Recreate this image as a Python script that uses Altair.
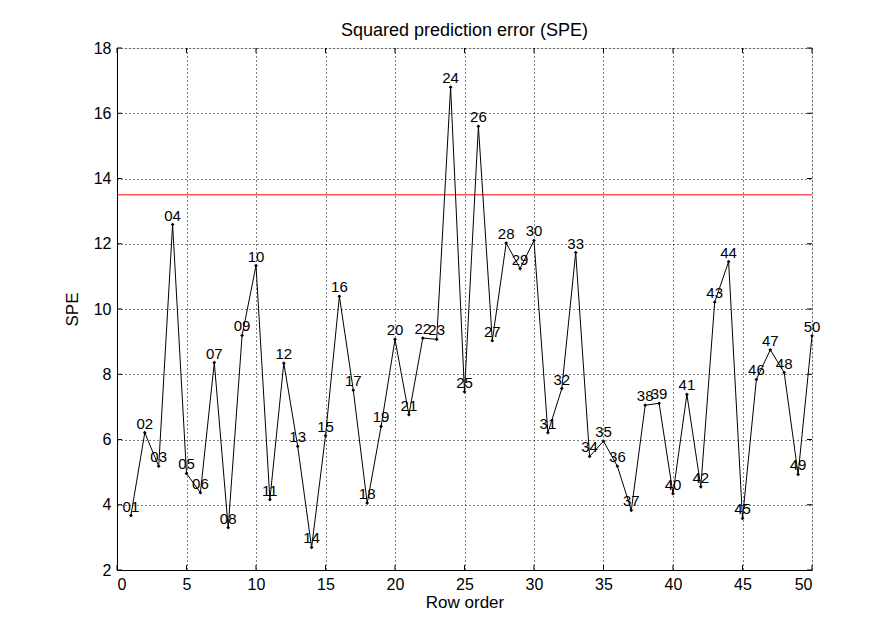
import altair as alt
import pandas as pd

rows = list(range(1, 51))
spe = [3.67, 6.21, 5.18, 12.59, 4.96, 4.37, 8.36, 3.30, 9.19, 11.33,
       4.16, 8.34, 5.79, 2.69, 6.12, 10.39, 7.51, 4.05, 6.40, 9.07,
       6.76, 9.11, 9.07, 16.80, 7.46, 15.60, 9.03, 12.02, 11.24, 12.10,
       6.21, 7.56, 11.73, 5.48, 5.95, 5.18, 3.83, 7.05, 7.11, 4.34,
       7.38, 4.55, 10.21, 11.45, 3.58, 7.84, 8.75, 8.05, 4.93, 9.18]
limit = [13.5]
x_ticks = list(range(0, 51, 5))
y_ticks = list(range(2, 19, 2))

font = "Liberation Sans"
plotWidth = 695
plotHeight = 522

df = pd.DataFrame({"row": rows, "spe": spe,
                   "label": [f"{r:02d}" for r in rows]})

xs = alt.Scale(domain=[0, 50], nice=False, zero=False)
ys = alt.Scale(domain=[2, 18], nice=False, zero=False)

base = alt.Chart(df).encode(
    x=alt.X("row:Q", scale=xs, title="Row order",
            axis=alt.Axis(values=x_ticks, grid=True, gridDash=[1, 3],
                          gridColor="black", gridOpacity=1, tickSize=0,
                          labelPadding=6, labelFontSize=16, labelColor="black",
                          domainColor="black", titleFontSize=17,
                          titleFontWeight="normal", titlePadding=2,
                          titleColor="black", labelFont=font, titleFont=font)),
    y=alt.Y("spe:Q", scale=ys, title="SPE",
            axis=alt.Axis(values=y_ticks, grid=True, gridDash=[1, 3],
                          gridColor="black", gridOpacity=1, tickSize=0,
                          labelPadding=6, labelFontSize=16, labelColor="black",
                          domainColor="black", titleFontSize=17,
                          titleFontWeight="normal", titlePadding=12,
                          titleColor="black", labelFont=font, titleFont=font)),
)

line = base.mark_line(color="black", strokeWidth=1)
points = base.mark_point(shape="diamond", filled=True, color="black",
                         size=14, opacity=1)
labels = base.mark_text(align="center", baseline="bottom", dy=-1,
                        font=font, fontSize=15, color="black").encode(
    text="label:N")

red = alt.Chart(pd.DataFrame({"y": limit})).mark_rule(
    color="#ff0000", strokeWidth=1).encode(y=alt.Y("y:Q", scale=ys))

xtick_df = pd.DataFrame({"t": x_ticks})
ytick_df = pd.DataFrame({"t": y_ticks})
xt_bottom = alt.Chart(xtick_df).mark_rule(color="black").encode(
    x=alt.X("t:Q", scale=xs), y=alt.value(plotHeight), y2=alt.value(plotHeight - 5))
xt_top = alt.Chart(xtick_df).mark_rule(color="black").encode(
    x=alt.X("t:Q", scale=xs), y=alt.value(0), y2=alt.value(5))
yt_left = alt.Chart(ytick_df).mark_rule(color="black").encode(
    y=alt.Y("t:Q", scale=ys), x=alt.value(0), x2=alt.value(5))
yt_right = alt.Chart(ytick_df).mark_rule(color="black").encode(
    y=alt.Y("t:Q", scale=ys), x=alt.value(plotWidth), x2=alt.value(plotWidth - 5))

chart = alt.layer(
    xt_bottom, xt_top, yt_left, yt_right, red, line, points, labels
).properties(
    width=plotWidth,
    height=plotHeight,
    title=alt.TitleParams("Squared prediction error (SPE)", font=font,
                          fontSize=18, fontWeight="normal", color="black",
                          offset=0),
    autosize=alt.AutoSizeParams(type="none"),
    padding={"left": 109, "top": 40, "right": 20, "bottom": 60},
).configure_view(
    stroke="black", strokeWidth=1
).configure(background="white")

chart.save("out.html", embed_options={"renderer": "svg", "actions": False})
